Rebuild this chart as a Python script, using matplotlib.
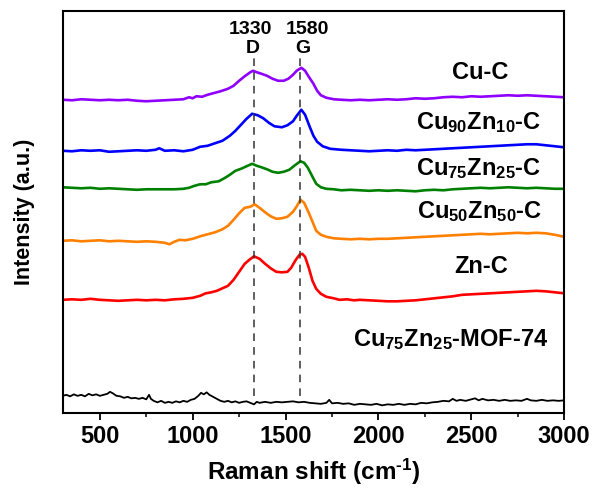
import matplotlib
matplotlib.use("Agg")
import matplotlib.pyplot as plt
from matplotlib.ticker import MultipleLocator

plt.rcParams["font.family"] = ["Liberation Sans", "DejaVu Sans"]
plt.rcParams["font.weight"] = "bold"
plt.rcParams["mathtext.fontset"] = "custom"
plt.rcParams["mathtext.rm"] = "Liberation Sans:bold"
plt.rcParams["mathtext.bf"] = "Liberation Sans:bold"
plt.rcParams["mathtext.it"] = "Liberation Sans:bold"
plt.rcParams["mathtext.default"] = "bf"

# Raman spectra (stacked, arbitrary units)
cu_shift = [300, 350, 400, 450, 500, 550, 600, 650, 700, 750, 800, 850, 900, 950,
            980, 1000, 1020, 1050, 1080, 1110, 1150, 1190, 1220, 1250, 1280, 1310, 1325, 1345, 1370, 1400,
            1430, 1460, 1490, 1515, 1540, 1560, 1585, 1605, 1625, 1650, 1670, 1690, 1720, 1760,
            1800, 1850, 1900, 1950, 2000, 2050, 2100, 2150, 2200, 2250, 2300, 2350, 2400, 2450, 2500,
            2550, 2600, 2650, 2700, 2750, 2800, 2850, 2900, 2950, 3000]
cu_int = [313, 312.5, 313.5, 313, 312.5, 313, 312.5, 313, 312, 311.5, 312, 312.5, 313, 313.5,
          315.5, 314.5, 316.5, 316, 318, 319.5, 321.5, 324, 327, 332, 336.5, 340.5, 342, 340.5, 339, 337,
          334, 332, 332, 334, 338, 342, 345, 342, 336, 329, 322, 317.5, 315, 313.5,
          313, 312.5, 313, 312.5, 313, 313.5, 313, 313.5, 314.5, 314, 314.5, 315.5, 316, 315.5, 316.5,
          316, 316.5, 317, 317.5, 317, 317.5, 317, 316.5, 316, 315.5]

cu90_shift = [300, 350, 400, 450, 500, 550, 600, 650, 700, 750, 800, 820, 850, 900, 950, 1000,
              1040, 1080, 1120, 1160, 1200, 1230, 1260, 1290, 1320, 1350, 1380, 1410, 1440, 1480,
              1510, 1540, 1560, 1585, 1605, 1630, 1650, 1670, 1700, 1740,
              1800, 1850, 1900, 1950, 2000, 2050, 2100, 2150, 2200, 2250, 2300, 2350, 2400, 2450, 2500,
              2550, 2600, 2650, 2700, 2750, 2800, 2850, 2900, 2950, 3000]
cu90_int = [262, 261.5, 262.5, 262, 262.5, 261, 261.5, 262, 262.5, 262, 263, 264.5, 262, 262.5, 261.5, 263,
            266, 267, 269.5, 272, 277, 282, 288, 294, 299, 297.5, 294.5, 290, 286.5, 285.5,
            287.5, 291.5, 297, 303, 298, 286, 277, 271, 266.5, 264,
            263, 262.5, 262, 261.5, 262, 262.5, 262, 263, 262.5, 263, 263.5, 264, 264.5, 265, 265.5,
            266, 266.5, 267, 267.5, 268, 268.5, 268.5, 267.5, 266.5, 265.5]

cu75_shift = [300, 350, 400, 450, 500, 550, 600, 650, 700, 750, 800, 850, 900, 950,
              980, 1010, 1040, 1070, 1100, 1140, 1170, 1200, 1230, 1260, 1290, 1320, 1345, 1370,
              1400, 1430, 1460, 1490, 1520, 1550, 1580, 1600, 1620, 1645, 1665, 1690, 1720, 1760,
              1800, 1850, 1900, 1950, 2000, 2050, 2100, 2150, 2200, 2250, 2300, 2350, 2400, 2450, 2500,
              2550, 2600, 2650, 2700, 2750, 2800, 2850, 2900, 2950, 3000]
cu75_int = [225.5, 225, 224.5, 225, 224, 224.5, 224, 223.5, 223, 223.5, 223.5, 223.5, 223.5, 224,
            225, 227, 228.5, 228.5, 230.5, 231.5, 234.5, 238, 242, 244, 246.5, 249, 247, 245.5,
            243.5, 241, 240, 241, 243, 247.5, 251.5, 250, 245, 236, 229, 225.5, 224, 223.5,
            222.5, 223, 222.5, 222, 222.5, 222, 222.5, 222, 221.5, 222.5, 223, 222.5, 223.5, 224, 224.5,
            225, 224.5, 225, 225.5, 225, 224.5, 225, 224.5, 224, 224]

cu50_shift = [300, 350, 400, 450, 500, 550, 600, 650, 700, 750, 800, 850,
              875, 900, 930, 960, 1000, 1040, 1080, 1120, 1160, 1190, 1220, 1250, 1280, 1310, 1333,
              1360, 1390, 1420, 1450, 1480, 1510, 1540, 1560, 1580, 1600, 1625, 1645, 1665, 1690,
              1720, 1760,
              1800, 1850, 1900, 1950, 2000, 2050, 2100, 2150, 2200, 2250, 2300, 2350, 2400, 2450, 2500,
              2550, 2600, 2650, 2700, 2750, 2800, 2850, 2900, 2950, 3000]
cu50_int = [172, 172.5, 171.5, 172, 172.5, 171.5, 172, 171.5, 171, 171.5, 171, 170,
            168.5, 171, 173, 172.5, 174, 176.5, 178.5, 180.5, 183.5, 187, 193, 199.5, 205, 206, 208.5,
            205, 200.5, 196.5, 194, 194.5, 196, 201, 206.5, 213, 210, 200, 191, 182, 178,
            176, 174.5,
            174, 173.5, 174, 173.5, 174, 174, 174.5, 175, 175.5, 176, 176.5, 177, 177.5, 178, 178.5,
            179, 178.5, 179, 179.5, 180, 179.5, 180, 179.5, 178, 176]

zn_shift = [300, 350, 400, 450, 500, 550, 600, 650, 700, 750, 800, 850, 900, 950,
            1000, 1040, 1070, 1100, 1130, 1160, 1190, 1220, 1250, 1280, 1305, 1330, 1360, 1390,
            1420, 1450, 1480, 1510, 1530, 1555, 1575, 1590, 1605, 1625, 1645, 1665, 1690, 1720,
            1760, 1790, 1830, 1870,
            1900, 1950, 2000, 2050, 2100, 2150, 2200, 2250, 2300, 2350, 2400, 2450, 2500,
            2550, 2600, 2650, 2700, 2750, 2800, 2850, 2900, 2950, 3000]
zn_int = [113, 113.5, 113, 114, 113, 112.5, 112, 112.5, 113, 112.5, 113, 112.5, 113.5, 114,
          115, 117, 119.5, 120.5, 122, 124.5, 127, 133, 141, 149, 153, 156.5, 154, 149,
          144.5, 141, 140.5, 141, 145, 153, 158, 159, 156, 145, 132, 124, 119, 116,
          114.5, 113, 113.5, 112.5,
          113, 112.5, 112, 111.5, 111.5, 112, 112.5, 113.5, 114.5, 115.5, 116.5, 118, 118.5,
          119, 119.5, 120, 120.5, 121, 121.5, 122, 121.5, 120.5, 119.5]

mof_shift = [300, 320, 340, 360, 380, 400, 420, 440, 460, 480, 500, 520, 540, 555, 570, 590,
             610, 630, 650, 670, 690, 710, 730, 750, 765, 775, 790, 810, 830, 850, 870, 890,
             910, 930, 950, 970, 990, 1010, 1030, 1045, 1060, 1075, 1090, 1110, 1130, 1150,
             1170, 1190, 1210, 1230, 1250, 1270, 1290, 1310, 1330, 1345, 1360, 1390, 1420, 1450,
             1480, 1510, 1540, 1570, 1600, 1630, 1660, 1690, 1720, 1735, 1750, 1780, 1810, 1840,
             1870, 1900, 1930, 1960, 1990, 2020, 2050, 2080, 2110, 2140, 2170, 2200, 2230, 2260,
             2290, 2320, 2350, 2380, 2400, 2420, 2440, 2470, 2500, 2520, 2540, 2560, 2590, 2620,
             2650, 2680, 2710, 2740, 2770, 2800, 2820, 2850, 2880, 2910, 2940, 2970, 3000]
mof_int = [17, 18, 16.5, 18.5, 17, 18, 16.5, 19, 17.5, 18.5, 17, 18, 19, 21, 19.5, 17,
           16.5, 15, 16, 14.5, 15, 14, 15, 13.5, 18, 14, 12, 10.5, 12, 10, 11, 10,
           11.5, 10.5, 12, 11, 13, 14, 17, 20, 18.5, 20.5, 18, 16, 14, 12,
           11, 12, 10.5, 11.5, 10, 11, 11.5, 10, 8.5, 11, 10, 11, 10, 11,
           10.5, 11, 11.5, 10.5, 11, 10, 9.5, 9, 10, 13, 9.5, 10, 9, 9.5,
           8, 9, 8.5, 8, 9, 7.5, 8.5, 8, 9, 8, 9, 8.5, 10, 9.5,
           10.5, 11, 12, 11.5, 14, 12, 13, 12, 13.5, 14.5, 12.5, 14, 12.5, 13,
           12, 13, 12, 12.5, 12, 14, 12.5, 12, 13, 12, 12.5, 12, 12.5]

bands = [1330, 1580]
band_names = ["D", "G"]

fig = plt.figure(figsize=(5.97, 4.88), dpi=100)
ax = fig.add_axes([0.105, 0.154, 0.84, 0.824])

ax.plot(cu_shift, cu_int, color="#8f00ff", lw=1.9)
ax.plot(cu90_shift, cu90_int, color="#0000ff", lw=1.9)
ax.plot(cu75_shift, cu75_int, color="#008000", lw=1.9)
ax.plot(cu50_shift, cu50_int, color="#ff8000", lw=1.9)
ax.plot(zn_shift, zn_int, color="#ff0000", lw=1.9)
ax.plot(mof_shift, mof_int, color="black", lw=1.3)

# D and G band guides, numbers nudged apart so they don't collide
for band, name, nudge in zip(bands, band_names, [-20, 38]):
    ax.vlines(band, 17, 355, colors="#333333", linestyles=(0, (5, 4)), lw=1.1)
    ax.text(band + nudge, 379, str(band), ha="center", va="baseline",
            fontsize=14, fontweight="bold")
    ax.text(band + nudge / 3, 359.5, name, ha="center", va="baseline",
            fontsize=14, fontweight="bold")

lab_kw = dict(ha="center", va="baseline", fontsize=17, fontweight="bold")
ax.text(2547, 334, "Cu-C", **lab_kw)
ax.text(2537, 284, r"Cu$_{90}$Zn$_{10}$-C", **lab_kw)
ax.text(2537, 238, r"Cu$_{75}$Zn$_{25}$-C", **lab_kw)
ax.text(2545, 195, r"Cu$_{50}$Zn$_{50}$-C", **lab_kw)
ax.text(2553, 140, "Zn-C", **lab_kw)
ax.text(2390, 67, r"Cu$_{75}$Zn$_{25}$-MOF-74", **lab_kw)

ax.set_xlim(300, 3000)
ax.set_ylim(0, 402)
ax.xaxis.set_major_locator(MultipleLocator(500))
ax.xaxis.set_minor_locator(MultipleLocator(250))
ax.tick_params(axis="x", which="major", direction="out", length=5, width=1.3,
               labelsize=17, pad=4)
ax.tick_params(axis="x", which="minor", direction="out", length=3, width=1.1)
ax.set_yticks([])
for lbl in ax.get_xticklabels():
    lbl.set_fontweight("bold")
for sp in ax.spines.values():
    sp.set_linewidth(1.5)

ax.set_xlabel(r"Raman shift (cm$^{\text{-}1}$)", fontsize=17.5, fontweight="bold", labelpad=6)
ax.set_ylabel("Intensity (a.u.)", fontsize=15.5, fontweight="bold", labelpad=20)

fig.savefig("out.png", dpi=100)
